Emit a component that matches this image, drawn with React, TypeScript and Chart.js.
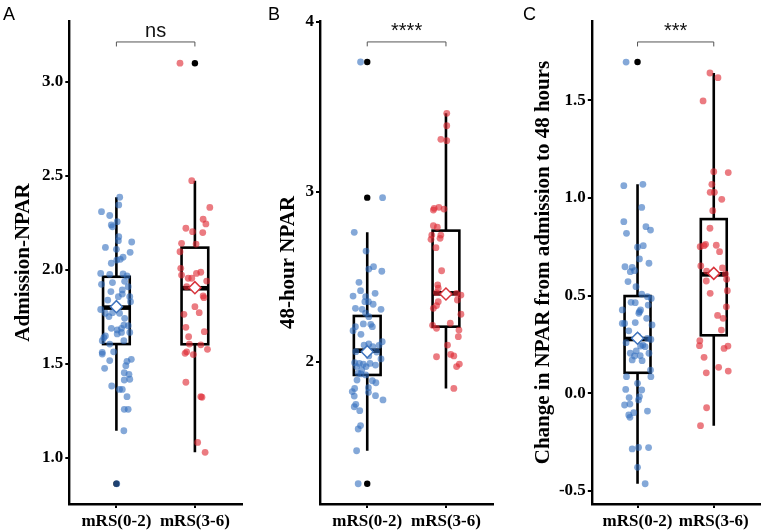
import React, { useEffect, useRef } from "react";
import { Chart, registerables } from "chart.js";

Chart.register(...registerables);

// ---- categories & labels ----
const groups = ["mRS(0-2)", "mRS(3-6)"];
const panelLetters = ["A", "B", "C"];
const yTitles = ["Admission-NPAR", "48-hour NPAR", "Change in NPAR from admission to 48 hours"];
const sigLabels = ["ns", "****", "***"];

// ---- Admission NPAR ----
const admissionGood = [
  2.387, 2.346, 2.31, 2.29, 2.257, 2.24, 2.23, 2.177, 2.156, 2.149,
  2.12, 2.11, 2.094, 2.068, 2.057, 2.053, 2.036, 1.982, 1.977, 1.979,
  1.968, 1.924, 1.933, 1.94, 1.911, 1.885, 1.894, 1.858, 1.858, 1.84,
  1.872, 1.831, 1.79, 1.77, 1.773, 1.752, 1.77, 1.743, 1.704, 1.69,
  1.69, 1.681, 1.707, 1.66, 1.668, 1.668, 1.649, 1.64, 1.624, 1.624,
  1.606, 1.562, 1.553, 1.565, 1.525, 1.514, 1.518, 1.491, 1.477, 1.454,
  1.445, 1.419, 1.415, 1.383, 1.365, 1.365, 1.326, 1.259, 1.259, 1.145,
  0.863,
];
const admissionGoodJitter = [
  0.042, 0.03, -0.19, -0.085, 0.01, -0.065, -0.05, 0.03, 0.025, 0.195,
  -0.14, 0, 0.175, 0.085, 0.05, 0.005, -0.065, -0.2, -0.085, 0.085,
  0.135, -0.19, -0.05, 0.105, 0.15, -0.07, 0.075, 0.17, 0.025, -0.11,
  0.075, 0.18, -0.2, -0.14, -0.05, -0.095, 0.04, 0.105, 0.15, -0.065,
  0.065, 0.01, 0.095, 0.01, 0.065, 0.17, -0.14, -0.16, -0.18, 0.095,
  -0.085, -0.18, -0.18, -0.035, 0.19, 0.135, -0.085, 0.12, -0.15, 0.1,
  0.16, 0.17, 0.1, -0.06, 0.04, 0.075, 0.135, 0.1, 0.15, 0.095,
  0.005,
];
const admissionPoor = [
  3.1, 2.475, 2.333, 2.27, 2.245, 2.222, 2.204, 2.199, 2.142, 2.138,
  2.097, 2.009, 1.973, 1.956, 1.956, 1.982, 1.988, 1.941, 1.911, 1.862,
  1.853, 1.805, 1.764, 1.773, 1.695, 1.672, 1.645, 1.606, 1.602, 1.565,
  1.557, 1.55, 1.578, 1.403, 1.326, 1.323, 1.083, 1.03,
];
const admissionPoorJitter = [
  -0.19, -0.04, 0.19, 0.105, 0.14, -0.115, -0.03, 0.1, -0.17, 0.015,
  -0.19, -0.18, -0.17, -0.085, -0.04, 0.02, 0.075, 0.15, -0.105, 0.105,
  0.115, 0, -0.14, 0.055, -0.115, 0.12, -0.08, -0.07, 0.075, -0.105,
  -0.125, -0.02, 0.16, -0.115, 0.075, 0.09, 0.035, 0.13,
];
// lower whisker, Q1, median, Q3, upper whisker
const admissionBox = [
  [1.145, 1.606, 1.8, 1.964, 2.387],
  [1.03, 1.605, 1.903, 2.119, 2.475],
];
const admissionMeans = [1.805, 1.906];
const admissionOutliers = [[0.863], [3.1]];
const admissionTicks = [1.0, 1.5, 2.0, 2.5, 3.0];

// ---- 48-hour NPAR ----
const h48Good = [
  3.763, 2.965, 1.282,
  2.761, 2.651, 2.559, 2.545, 2.532, 2.467, 2.418, 2.402, 2.386, 2.382,
  2.353, 2.353, 2.338, 2.314, 2.308, 2.308, 2.285, 2.265, 2.206, 2.222,
  2.22, 2.206, 2.182, 2.161, 2.118, 2.098, 2.104, 2.088, 2.096, 2.059,
  2.055, 2.057, 2.034, 2.016, 1.994, 1.99, 1.985, 1.99, 1.98, 1.971,
  1.971, 1.951, 1.932, 1.928, 1.922, 1.892, 1.876, 1.888, 1.847, 1.843,
  1.824, 1.82, 1.8, 1.798, 1.775, 1.749, 1.735, 1.712, 1.624, 1.604,
  1.476,
];
const h48GoodJitter = [
  -0.085, 0.195, -0.115,
  -0.165, -0.015, 0.08, 0.02, 0.185, -0.105, -0.085, 0.1, -0.18, -0.02,
  0.015, -0.03, 0.075, -0.15, 0.175, -0.065, -0.02, 0.02, -0.15, -0.05,
  0.045, 0.065, -0.18, -0.08, 0.19, -0.04, 0.02, 0.07, 0.15, -0.145,
  -0.015, 0.12, 0.02, 0.175, -0.16, -0.1, -0.05, 0.035, 0.105, -0.135,
  -0.015, -0.07, -0.115, -0.08, -0.02, -0.13, 0.11, 0.065, 0.015, -0.16,
  -0.19, 0.015, 0.105, -0.165, 0.2, -0.145, -0.165, -0.095, -0.085, -0.115,
  -0.135,
];
const h48Poor = [
  3.461, 3.388, 3.308, 3.3, 2.902, 2.892, 2.908, 2.898, 2.8, 2.791,
  2.745, 2.745, 2.72, 2.726, 2.671, 2.535, 2.451, 2.432, 2.406, 2.402,
  2.392, 2.353, 2.363, 2.33, 2.314, 2.279, 2.214, 2.226, 2.196, 2.186,
  2.147, 2.098, 2.043, 2.034, 2.029, 1.986, 1.971, 1.843,
];
const h48PoorJitter = [
  0.01, 0.01, -0.065, 0.01, -0.15, -0.16, -0.09, -0.025, -0.16, -0.11,
  -0.065, -0.18, -0.19, -0.075, -0.127, -0.055, -0.105, -0.098, -0.12, 0.135,
  0.19, -0.098, 0.145, -0.12, -0.16, 0.19, -0.17, 0.055, -0.12, 0.165,
  0.157, 0.02, 0.06, 0.1, -0.12, 0.17, 0.135, 0.1,
];
const h48Box = [
  [1.476, 1.922, 2.065, 2.269, 2.761],
  [1.843, 2.206, 2.402, 2.771, 3.461],
];
const h48Means = [2.059, 2.398];
const h48Outliers = [[3.763, 2.965, 1.282], []];
const h48Ticks = [2, 3, 4];

// ---- change from admission to 48 hours ----
const changeGood = [
  1.696,
  1.063, 1.07, 0.952, 0.879, 0.853, 0.836, 0.819, 0.756, 0.748, 0.688,
  0.666, 0.648, 0.645, 0.628, 0.623, 0.572, 0.546, 0.508, 0.495, 0.486,
  0.466, 0.464, 0.452, 0.427, 0.418, 0.427, 0.41, 0.384, 0.358, 0.358,
  0.362, 0.35, 0.32, 0.293, 0.281, 0.276, 0.259, 0.247, 0.239, 0.242,
  0.217, 0.205, 0.205, 0.191, 0.193, 0.171, 0.167, 0.119, 0.085, 0.085,
  0.051, 0.02, 0.017, -0.017, -0.022, -0.034, -0.06, -0.055, -0.099, -0.111,
  -0.123, -0.091, -0.285, -0.277, -0.278, -0.379, -0.463,
];
const changeGoodJitter = [
  -0.15,
  -0.18, 0.07, 0.055, -0.18, 0.11, 0.17, -0.145, 0.075, 0, 0.025,
  0.15, -0.165, -0.07, -0.04, -0.095, -0.125, -0.02, 0.055, 0.13, 0.18,
  -0.085, -0.03, 0.14, 0.04, 0.025, -0.2, 0.017, 0.12, -0.2, -0.17,
  -0.03, 0.19, -0.115, 0.005, 0.13, 0.175, -0.15, 0.07, 0.1, 0.04,
  -0.017, 0.15, -0.095, -0.04, 0.035, -0.07, 0.06, 0.17, -0.145, 0.175,
  0, -0.155, 0.055, 0.025, -0.11, 0.013, -0.17, -0.1, -0.05, -0.115,
  -0.1, 0.13, -0.07, 0.013, 0.145, 0, 0.1,
];
const changePoor = [
  1.64, 1.616, 1.497,
  1.135, 1.13, 1.07, 1.029, 1.029, 0.993, 0.935, 0.845, 0.751, 0.756,
  0.763, 0.758, 0.725, 0.652, 0.642, 0.626, 0.611, 0.584, 0.575, 0.525,
  0.512, 0.443, 0.399, 0.384, 0.324, 0.269, 0.244, 0.242,
  0.23, 0.184, 0.133, 0.114, 0.105, -0.074, -0.166,
];
const changePoorJitter = [
  -0.05, 0.055, -0.14,
  0, 0.19, -0.025, -0.047, 0.008, 0.105, -0.013, -0.05, -0.178, -0.127,
  -0.107, 0.033, 0.076, -0.17, 0.114, -0.094, 0.152, 0.169, -0.098, 0.178,
  -0.047, 0.165, 0.05, 0.122, 0.1, -0.183, -0.187, 0.186,
  0.135, -0.127, 0.064, 0.19, -0.098, -0.094, -0.174,
];
const changeBox = [
  [-0.463, 0.105, 0.278, 0.498, 1.07],
  [-0.166, 0.297, 0.609, 0.892, 1.64],
];
const changeMeans = [0.282, 0.614];
const changeOutliers = [[1.696], []];
const changeTicks = [-0.5, 0.0, 0.5, 1.0, 1.5];

// comparison bracket: line level, tip level, label baseline
const admissionBracket = [3.213, 3.189, 3.239];
const h48Bracket = [3.881, 3.855, 3.91];
const changeBracket = [1.799, 1.776, 1.824];

// ---- styling ----
const SERIF = '"Liberation Serif", "Times New Roman", serif';
const SANS = '"Liberation Sans", Arial, sans-serif';
const POINT_COLORS = ["rgba(50,110,190,0.6)", "rgba(222,42,52,0.62)"];
const MEAN_EDGE = ["#3f74bd", "#d8343c"];
const BOX_HALF = 0.17;

type PanelSpec = {
  letter: string;
  title: string;
  sig: string;
  good: number[];
  goodJitter: number[];
  poor: number[];
  poorJitter: number[];
  box: number[][];
  means: number[];
  outliers: number[][];
  ticks: number[];
  decimals: number;
  bracket: number[];
  yMin: number;
  yMax: number;
  canvasLeft: number;
  canvasWidth: number;
  axisWidth: number;
  padRight: number;
  titlePad: number;
  letterX: number;
};

const panels: PanelSpec[] = [
  {
    letter: panelLetters[0], title: yTitles[0], sig: sigLabels[0],
    good: admissionGood, goodJitter: admissionGoodJitter,
    poor: admissionPoor, poorJitter: admissionPoorJitter,
    box: admissionBox, means: admissionMeans, outliers: admissionOutliers,
    ticks: admissionTicks, decimals: 1, bracket: admissionBracket,
    yMin: 0.7553, yMax: 3.3245,
    canvasLeft: 0, canvasWidth: 255, axisWidth: 69.3, padRight: 13, titlePad: 11.4, letterX: 3,
  },
  {
    letter: panelLetters[1], title: yTitles[1], sig: sigLabels[1],
    good: h48Good, goodJitter: h48GoodJitter,
    poor: h48Poor, poorJitter: h48PoorJitter,
    box: h48Box, means: h48Means, outliers: h48Outliers,
    ticks: h48Ticks, decimals: 0, bracket: h48Bracket,
    yMin: 1.1629, yMax: 4.0041,
    canvasLeft: 255, canvasWidth: 255, axisWidth: 65, padRight: 16.8, titlePad: 21.4, letterX: 13,
  },
  {
    letter: panelLetters[2], title: yTitles[2], sig: sigLabels[2],
    good: changeGood, goodJitter: changeGoodJitter,
    poor: changePoor, poorJitter: changePoorJitter,
    box: changeBox, means: changeMeans, outliers: changeOutliers,
    ticks: changeTicks, decimals: 1, bracket: changeBracket,
    yMin: -0.5668, yMax: 1.9063,
    canvasLeft: 510, canvasWidth: 257, axisWidth: 81.8, padRight: 2.1, titlePad: 21.4, letterX: 13,
  },
];

const HEIGHT = 532;
const TOP = 21;
const X_AXIS_HEIGHT = 28;

function jittered(values: number[], jitter: number[], cat: number) {
  return values.map((v, i) => ({ x: cat + (jitter[i] ?? 0), y: v }));
}

function PanelChart({ spec }: { spec: PanelSpec }) {
  const ref = useRef<HTMLCanvasElement | null>(null);

  useEffect(() => {
    if (!ref.current) return;

    const boxPlugin = {
      id: "boxSummary",
      beforeDatasetsDraw(chart: any) {
        const { ctx, scales } = chart;
        const x = scales.x;
        const y = scales.y;
        ctx.save();
        spec.box.forEach((b: number[], i: number) => {
          const [lo, q1, med, q3, hi] = b;
          const cx = x.getPixelForValue(i + 1);
          const left = x.getPixelForValue(i + 1 - BOX_HALF);
          const right = x.getPixelForValue(i + 1 + BOX_HALF);
          const yLo = y.getPixelForValue(lo);
          const yQ1 = y.getPixelForValue(q1);
          const yMed = y.getPixelForValue(med);
          const yQ3 = y.getPixelForValue(q3);
          const yHi = y.getPixelForValue(hi);
          ctx.strokeStyle = "#000";
          ctx.lineWidth = 2.6;
          ctx.beginPath();
          ctx.moveTo(cx, yHi);
          ctx.lineTo(cx, yQ3);
          ctx.moveTo(cx, yQ1);
          ctx.lineTo(cx, yLo);
          ctx.stroke();
          ctx.fillStyle = "#fff";
          ctx.fillRect(left, yQ3, right - left, yQ1 - yQ3);
          ctx.strokeRect(left, yQ3, right - left, yQ1 - yQ3);
          ctx.lineWidth = 4.6;
          ctx.beginPath();
          ctx.moveTo(left, yMed);
          ctx.lineTo(right, yMed);
          ctx.stroke();
        });
        ctx.restore();
      },
      afterDraw(chart: any) {
        const { ctx, scales } = chart;
        const x = scales.x;
        const y = scales.y;
        const [lineV, tipV, labelV] = spec.bracket;
        const x1 = x.getPixelForValue(1);
        const x2 = x.getPixelForValue(2);
        const yl = y.getPixelForValue(lineV);
        const yt = y.getPixelForValue(tipV);
        ctx.save();
        ctx.strokeStyle = "#555";
        ctx.lineWidth = 1;
        ctx.beginPath();
        ctx.moveTo(x1, yt);
        ctx.lineTo(x1, yl);
        ctx.lineTo(x2, yl);
        ctx.lineTo(x2, yt);
        ctx.stroke();
        ctx.fillStyle = "#111";
        ctx.font = `20px ${SANS}`;
        ctx.textAlign = "center";
        ctx.textBaseline = "alphabetic";
        ctx.fillText(spec.sig, (x1 + x2) / 2, y.getPixelForValue(labelV));
        ctx.font = `18px ${SANS}`;
        ctx.textAlign = "left";
        ctx.fillStyle = "#000";
        ctx.fillText(spec.letter, spec.letterX, 19.5);
        ctx.restore();
      },
    };

    const outlierPoints = spec.outliers.flatMap((list, i) => list.map((v) => ({ x: i + 1, y: v })));

    const axisGrid = {
      drawOnChartArea: false,
      drawTicks: true,
      tickLength: 4,
      color: "#000",
      lineWidth: 2,
    };
    const axisBorder = { display: true, color: "#000", width: 2.4 };

    const chart = new Chart(ref.current, {
      type: "scatter",
      data: {
        datasets: [
          {
            label: "outliers",
            data: outlierPoints,
            order: 4,
            pointRadius: 3.2,
            pointBorderWidth: 0,
            backgroundColor: "#000",
          },
          {
            label: groups[0],
            data: jittered(spec.good, spec.goodJitter, 1),
            order: 3,
            pointRadius: 3.4,
            pointBorderWidth: 0,
            backgroundColor: POINT_COLORS[0],
          },
          {
            label: groups[1],
            data: jittered(spec.poor, spec.poorJitter, 2),
            order: 2,
            pointRadius: 3.4,
            pointBorderWidth: 0,
            backgroundColor: POINT_COLORS[1],
          },
          {
            label: "mean",
            data: spec.means.map((m, i) => ({ x: i + 1, y: m })),
            order: 1,
            pointStyle: "rectRot",
            pointRadius: 6,
            pointBorderWidth: 1.5,
            backgroundColor: "#fff",
            borderColor: MEAN_EDGE,
          },
        ],
      },
      options: {
        animation: false,
        responsive: false,
        maintainAspectRatio: false,
        events: [],
        layout: { padding: { left: 0, right: spec.padRight, top: TOP, bottom: 0 } },
        plugins: { legend: { display: false }, tooltip: { enabled: false } },
        scales: {
          x: {
            type: "linear",
            min: 0.4,
            max: 2.6,
            afterBuildTicks: (s: any) => {
              s.ticks = [{ value: 1 }, { value: 2 }];
            },
            afterFit: (s: any) => {
              s.height = X_AXIS_HEIGHT;
            },
            ticks: {
              autoSkip: false,
              maxRotation: 0,
              padding: 3,
              color: "#000",
              font: { family: SERIF, weight: "bold", size: 17 },
              callback: (v: any) => groups[Math.round(Number(v)) - 1] ?? "",
            },
            grid: axisGrid,
            border: axisBorder,
          },
          y: {
            type: "linear",
            min: spec.yMin,
            max: spec.yMax,
            afterBuildTicks: (s: any) => {
              s.ticks = spec.ticks.map((v) => ({ value: v }));
            },
            afterFit: (s: any) => {
              s.width = spec.axisWidth;
            },
            ticks: {
              autoSkip: false,
              padding: 2,
              color: "#000",
              font: { family: SERIF, weight: "bold", size: 17 },
              callback: (v: any) => Number(v).toFixed(spec.decimals),
            },
            title: {
              display: true,
              text: spec.title,
              color: "#000",
              font: { family: SERIF, weight: "bold", size: 21 },
              padding: { top: spec.titlePad, bottom: 0 },
            },
            grid: axisGrid,
            border: axisBorder,
          },
        },
      },
      plugins: [boxPlugin],
    } as any);

    return () => chart.destroy();
  }, [spec]);

  return (
    <canvas
      ref={ref}
      width={spec.canvasWidth}
      height={HEIGHT}
      style={{
        position: "absolute",
        left: spec.canvasLeft,
        top: 0,
        width: spec.canvasWidth,
        height: HEIGHT,
      }}
    />
  );
}

export default function App() {
  return (
    <div
      style={{
        position: "absolute",
        left: 0,
        top: 0,
        width: 767,
        height: HEIGHT,
        background: "#fff",
        overflow: "hidden",
      }}
    >
      {panels.map((p) => (
        <PanelChart key={p.letter} spec={p} />
      ))}
    </div>
  );
}
